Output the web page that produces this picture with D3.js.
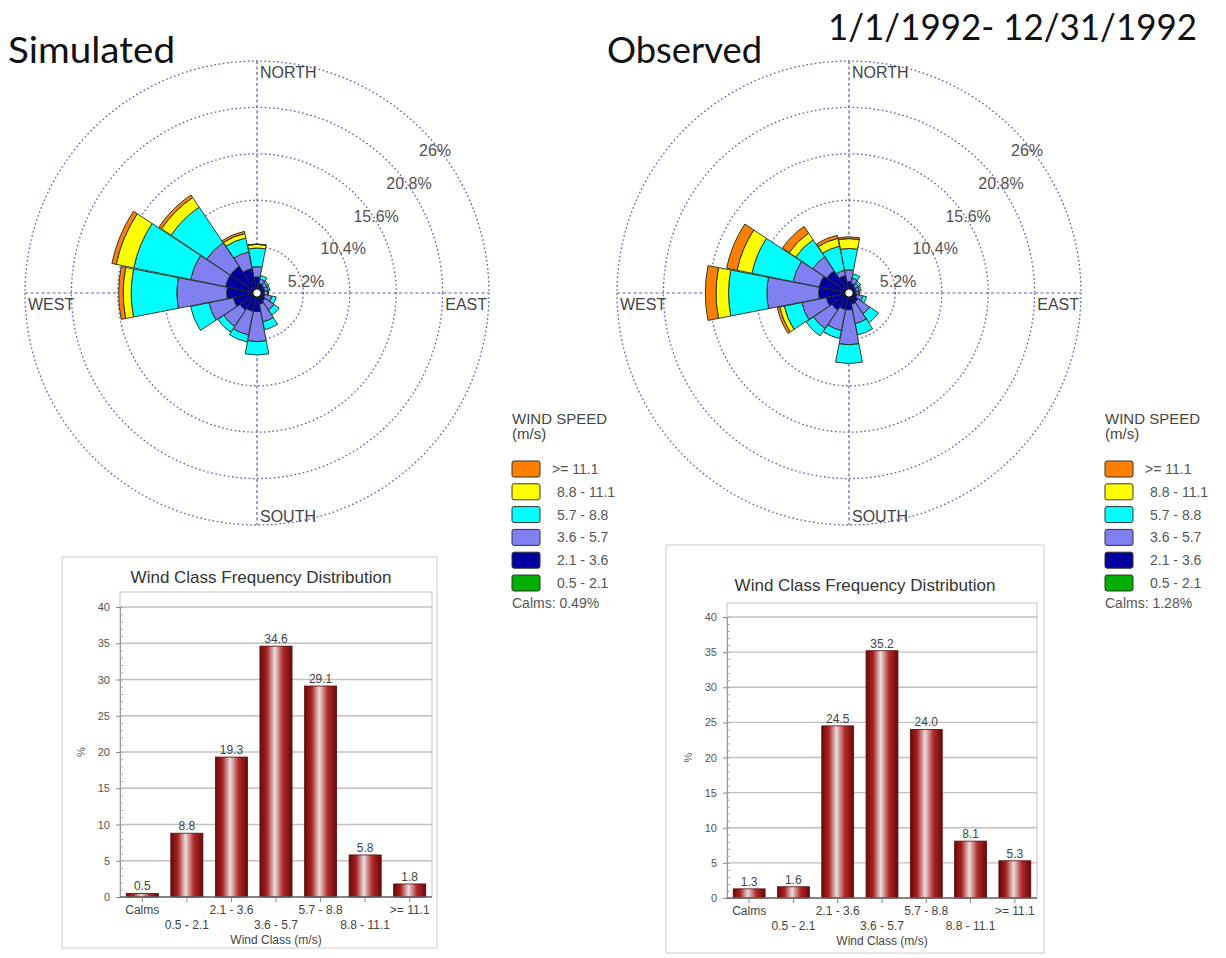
<!DOCTYPE html>
<html>
<head>
<meta charset="utf-8">
<script src="https://cdn.jsdelivr.net/npm/d3@7"></script>
<style>
  body { margin: 0; background: #fff; }
  svg text { font-family: "Liberation Sans", Arial, sans-serif; }
  .big { font-family: Lato, "Open Sans", sans-serif; fill: #111; }
</style>
</head>
<body>
<svg id="chart" width="1226" height="958"></svg>
<script>
// ---- Wind rose data (frequency %, by direction the wind blows from) ----
const directions = ["N","NNE","NE","ENE","E","ESE","SE","SSE","S","SSW","SW","WSW","W","WNW","NW","NNW"];
const speedClasses = ["0.5 - 2.1", "2.1 - 3.6", "3.6 - 5.7", "5.7 - 8.8", "8.8 - 11.1", ">= 11.1"];
const speedColors  = ["#00b000", "#0000a0", "#8080f0", "#00ffff", "#ffff00", "#ff8000"];
const ringTicks = [5.2, 10.4, 15.6, 20.8, 26];

// Simulated, one array per speed class (N ... NNW)
const sim05 = [0.3,0.3,0.3,0.3,0.3,0.3,0.3,0.3,0.3,0.3,0.3,0.3,0.3,0.3,0.3,0.3];
const sim21 = [1.5,0.8,0.7,0.6,0.5,0.6,0.8,1.0,1.8,1.8,2.0,2.4,3.1,3.3,3.3,2.5];
const sim36 = [1.15,0.5,0.4,0.4,0.4,0.8,1.2,2.0,3.35,2.7,2.2,2.8,5.6,4.0,3.2,1.9];
const sim57 = [2.1,0.4,0.2,0.2,0.1,0.5,0.7,0.9,1.5,0.8,0.8,2.1,5.1,6.5,4.8,1.6];
const sim88 = [0.4,0,0,0,0,0,0,0,0,0,0,0,0.9,2.0,1.3,0.5];
const sim111 = [0.05,0,0,0,0,0,0,0,0,0,0,0,0.5,0.5,0.35,0.25];

// Observed, one array per speed class (N ... NNW)
const obs05 = [0.3,0.3,0.3,0.3,0.3,0.3,0.3,0.3,0.3,0.3,0.3,0.3,0.3,0.3,0.3,0.3];
const obs21 = [1.0,0.8,0.6,0.5,0.5,0.6,0.9,1.0,1.6,1.6,2.0,2.3,3.1,3.1,2.7,1.7];
const obs36 = [1.3,0.6,0.4,0.4,0.3,0.7,1.6,2.2,3.9,2.4,2.5,2.8,5.8,3.0,1.9,0.6];
const obs57 = [2.4,0.5,0.3,0.2,0.1,0.4,1.2,1.3,2.1,0.9,1.0,2.0,4.3,4.7,2.3,2.75];
const obs88 = [1.1,0,0,0,0,0,0,0,0,0,0,0.5,1.4,1.7,0.9,0.9];
const obs111 = [0.2,0,0,0,0,0,0,0,0,0,0,0.3,1.2,1.2,0.9,0.35];

// ---- Wind class frequency distribution ----
const windClasses = ["Calms", "0.5 - 2.1", "2.1 - 3.6", "3.6 - 5.7", "5.7 - 8.8", "8.8 - 11.1", ">= 11.1"];
const simulatedFreq = [0.5, 8.8, 19.3, 34.6, 29.1, 5.8, 1.8];
const observedFreq  = [1.3, 1.6, 24.5, 35.2, 24.0, 8.1, 5.3];
const freqTicks = [0, 5, 10, 15, 20, 25, 30, 35, 40];
const calmsSimulated = "Calms: 0.49%";
const calmsObserved = "Calms: 1.28%";

const svg = d3.select("#chart");

// ---------- page titles ----------
function bigText(x, y, str, width) {
  svg.append("text").attr("class", "big")
    .attr("x", x).attr("y", y)
    .attr("font-size", 36)
    .attr("textLength", width).attr("lengthAdjust", "spacingAndGlyphs")
    .text(str);
}
bigText(8, 63, "Simulated", 167);
bigText(607, 63, "Observed", 155);
bigText(828, 40, "1/1/1992- 12/31/1992", 369);

// ---------- wind rose ----------
function drawRose(cx, cy, series) {
  const R = 232;
  const g = svg.append("g").attr("transform", `translate(${cx},${cy})`);
  const r = d3.scaleLinear().domain([0, 26]).range([0, R]);
  const gridColor = "#5b5bb0";

  g.selectAll("circle.ring").data(ringTicks).join("circle")
    .attr("class", "ring")
    .attr("r", d => r(d))
    .attr("fill", "none")
    .attr("stroke", gridColor)
    .attr("stroke-width", 1.3)
    .attr("stroke-dasharray", "1.6,2.6");

  g.append("line").attr("x1", 0).attr("x2", 0).attr("y1", -R).attr("y2", R)
    .attr("stroke", gridColor).attr("stroke-width", 1.2).attr("stroke-dasharray", "3,2.5");
  g.append("line").attr("y1", 0).attr("y2", 0).attr("x1", -R).attr("x2", R)
    .attr("stroke", gridColor).attr("stroke-width", 1.2).attr("stroke-dasharray", "3,2.5");

  // stacked petals, slowest class at the centre
  const arc = d3.arc();
  const half = 11 * Math.PI / 180;
  const segs = [];
  directions.forEach((dir, i) => {
    let acc = 0;
    series.forEach((arr, k) => {
      const v = arr[i];
      if (v > 0) {
        const a = i * 22.5 * Math.PI / 180;
        segs.push({ inner: r(acc), outer: r(acc + v), a0: a - half, a1: a + half, k });
      }
      acc += v;
    });
  });
  g.selectAll("path.petal").data(segs).join("path")
    .attr("class", "petal")
    .attr("d", d => arc({ innerRadius: d.inner, outerRadius: d.outer, startAngle: d.a0, endAngle: d.a1 }))
    .attr("fill", d => speedColors[d.k])
    .attr("stroke", "#1d2a1d")
    .attr("stroke-width", 0.9)
    .attr("stroke-linejoin", "round");

  g.append("circle").attr("r", 4.2).attr("fill", "#fff").attr("stroke", "#111").attr("stroke-width", 1.2);

  // ring value labels along the north-east diagonal
  g.selectAll("text.ringlbl").data(ringTicks).join("text")
    .attr("class", "ringlbl")
    .attr("x", d => r(d) * Math.SQRT1_2 - 2)
    .attr("y", d => -r(d) * Math.SQRT1_2 + 27)
    .attr("font-size", 16).attr("fill", "#505050")
    .text(d => (Math.round(d * 10) / 10) + "%");

  const comp = [
    { t: "NORTH", x: 3, y: -215, anchor: "start" },
    { t: "SOUTH", x: 3, y: 229, anchor: "start" },
    { t: "WEST", x: -229, y: 17, anchor: "start" },
    { t: "EAST", x: 230, y: 17, anchor: "end" }
  ];
  g.selectAll("text.comp").data(comp).join("text")
    .attr("class", "comp")
    .attr("x", d => d.x).attr("y", d => d.y)
    .attr("text-anchor", d => d.anchor)
    .attr("font-size", 16).attr("fill", "#444")
    .text(d => d.t);
}
drawRose(257, 293, [sim05, sim21, sim36, sim57, sim88, sim111]);
drawRose(849, 293, [obs05, obs21, obs36, obs57, obs88, obs111]);

// ---------- legends ----------
function drawLegend(x, y, calmsLabel) {
  const g = svg.append("g").attr("transform", `translate(${x},${y})`);
  g.append("text").attr("x", 0).attr("y", 0).attr("font-size", 15).attr("fill", "#444").text("WIND SPEED");
  g.append("text").attr("x", 0).attr("y", 15).attr("font-size", 15).attr("fill", "#444").text("(m/s)");
  const order = d3.range(speedClasses.length).reverse();
  const rows = g.selectAll("g.row").data(order).join("g")
    .attr("class", "row")
    .attr("transform", (d, i) => `translate(0,${37 + i * 22.8})`);
  rows.append("rect").attr("width", 28).attr("height", 16).attr("rx", 2)
    .attr("fill", d => speedColors[d]).attr("stroke", "#333").attr("stroke-width", 1);
  rows.append("text").attr("x", d => d === 5 ? 40 : 45).attr("y", 13)
    .attr("font-size", 14).attr("fill", "#555")
    .text(d => speedClasses[d]);
  g.append("text").attr("x", 0).attr("y", 184).attr("font-size", 14).attr("fill", "#555").text(calmsLabel);
}
drawLegend(512, 424, calmsSimulated);
drawLegend(1105, 424, calmsObserved);

// ---------- frequency bar charts ----------
const defs = svg.append("defs");
const grad = defs.append("linearGradient").attr("id", "barGrad").attr("x1", "0%").attr("x2", "100%");
[["0%", "#6a0808"], ["22%", "#a82222"], ["46%", "#e9dede"], ["72%", "#b02a2a"], ["100%", "#6a0808"]]
  .forEach(([o, c]) => grad.append("stop").attr("offset", o).attr("stop-color", c));

function drawBars(cfg, values) {
  const g = svg.append("g");
  g.append("rect").attr("x", cfg.fx).attr("y", cfg.fy).attr("width", cfg.fw).attr("height", cfg.fh)
    .attr("fill", "#fff").attr("stroke", "#d6d6d6").attr("stroke-width", 1.2);

  g.append("text").attr("x", cfg.titleX).attr("y", cfg.titleY).attr("text-anchor", "middle")
    .attr("font-size", 17).attr("fill", "#333").text("Wind Class Frequency Distribution");

  const x = d3.scaleBand().domain(windClasses).range([cfg.x0, cfg.x1])
    .paddingInner(0.28).paddingOuter(0.14);
  const y = d3.scaleLinear().domain([0, 40]).range([cfg.y0, cfg.y40]);

  // plot frame and grid
  g.append("rect").attr("x", cfg.x0).attr("y", cfg.top).attr("width", cfg.x1 - cfg.x0).attr("height", cfg.y0 - cfg.top)
    .attr("fill", "none").attr("stroke", "#c4c4c4").attr("stroke-width", 1);
  g.selectAll("line.grid").data(freqTicks.slice(1)).join("line")
    .attr("class", "grid")
    .attr("x1", cfg.x0).attr("x2", cfg.x1)
    .attr("y1", d => y(d)).attr("y2", d => y(d))
    .attr("stroke", "#c0c0c0").attr("stroke-width", 1.3);

  // y axis: major and minor ticks
  const yAxis = d3.axisLeft(y).tickValues(freqTicks).tickSize(4).tickPadding(6).tickFormat(d3.format("d"));
  const ya = g.append("g").attr("transform", `translate(${cfg.x0},0)`).call(yAxis);
  ya.select(".domain").attr("stroke", "#999");
  ya.selectAll(".tick line").attr("stroke", "#888");
  ya.selectAll("text").attr("font-size", 11).attr("fill", "#555").attr("font-family", "Liberation Sans, Arial, sans-serif");
  const yMinor = d3.axisRight(y).tickValues(d3.range(0, 40.01, 1)).tickSize(3).tickFormat("");
  const ym = g.append("g").attr("transform", `translate(${cfg.x0},0)`).call(yMinor);
  ym.select(".domain").remove();
  ym.selectAll(".tick line").attr("stroke", "#aaa");

  g.append("text").attr("transform", `translate(${cfg.x0 - 35},${(cfg.y0 + cfg.y40) / 2}) rotate(-90)`)
    .attr("text-anchor", "middle").attr("font-size", 11).attr("fill", "#555").text("%");

  // bars
  const data = windClasses.map((c, i) => ({ c, v: values[i] }));
  g.selectAll("rect.bar").data(data).join("rect")
    .attr("class", "bar")
    .attr("x", d => x(d.c)).attr("width", x.bandwidth())
    .attr("y", d => y(d.v)).attr("height", d => y(0) - y(d.v))
    .attr("fill", "url(#barGrad)").attr("stroke", "#5a0a0a").attr("stroke-width", 0.8);
  g.selectAll("text.val").data(data).join("text")
    .attr("class", "val")
    .attr("x", d => x(d.c) + x.bandwidth() / 2).attr("y", d => y(d.v) - 3)
    .attr("text-anchor", "middle").attr("font-size", 12).attr("fill", "#444")
    .text(d => d.v.toFixed(1));

  // x axis with staggered labels
  g.append("line").attr("x1", cfg.x0).attr("x2", cfg.x1).attr("y1", y(0)).attr("y2", y(0))
    .attr("stroke", "#666").attr("stroke-width", 1.5);
  g.selectAll("line.xt").data(windClasses).join("line")
    .attr("class", "xt")
    .attr("x1", d => x(d) + x.bandwidth() / 2).attr("x2", d => x(d) + x.bandwidth() / 2)
    .attr("y1", y(0)).attr("y2", y(0) + 5)
    .attr("stroke", "#888");
  g.selectAll("text.xl").data(windClasses).join("text")
    .attr("class", "xl")
    .attr("x", d => x(d) + x.bandwidth() / 2)
    .attr("y", (d, i) => y(0) + (i % 2 === 0 ? 17 : 32))
    .attr("text-anchor", "middle").attr("font-size", 12).attr("fill", "#444")
    .text(d => d);
  g.append("text").attr("x", (cfg.x0 + cfg.x1) / 2).attr("y", y(0) + 47)
    .attr("text-anchor", "middle").attr("font-size", 12).attr("fill", "#444").text("Wind Class (m/s)");
}

drawBars({ fx: 62, fy: 557, fw: 375, fh: 391, titleX: 261, titleY: 583,
           x0: 120, x1: 432, y0: 897, y40: 607, top: 592 }, simulatedFreq);
drawBars({ fx: 666, fy: 545, fw: 378, fh: 408, titleX: 865, titleY: 591,
           x0: 727, x1: 1037, y0: 898, y40: 617, top: 603 }, observedFreq);
</script>
</body>
</html>
